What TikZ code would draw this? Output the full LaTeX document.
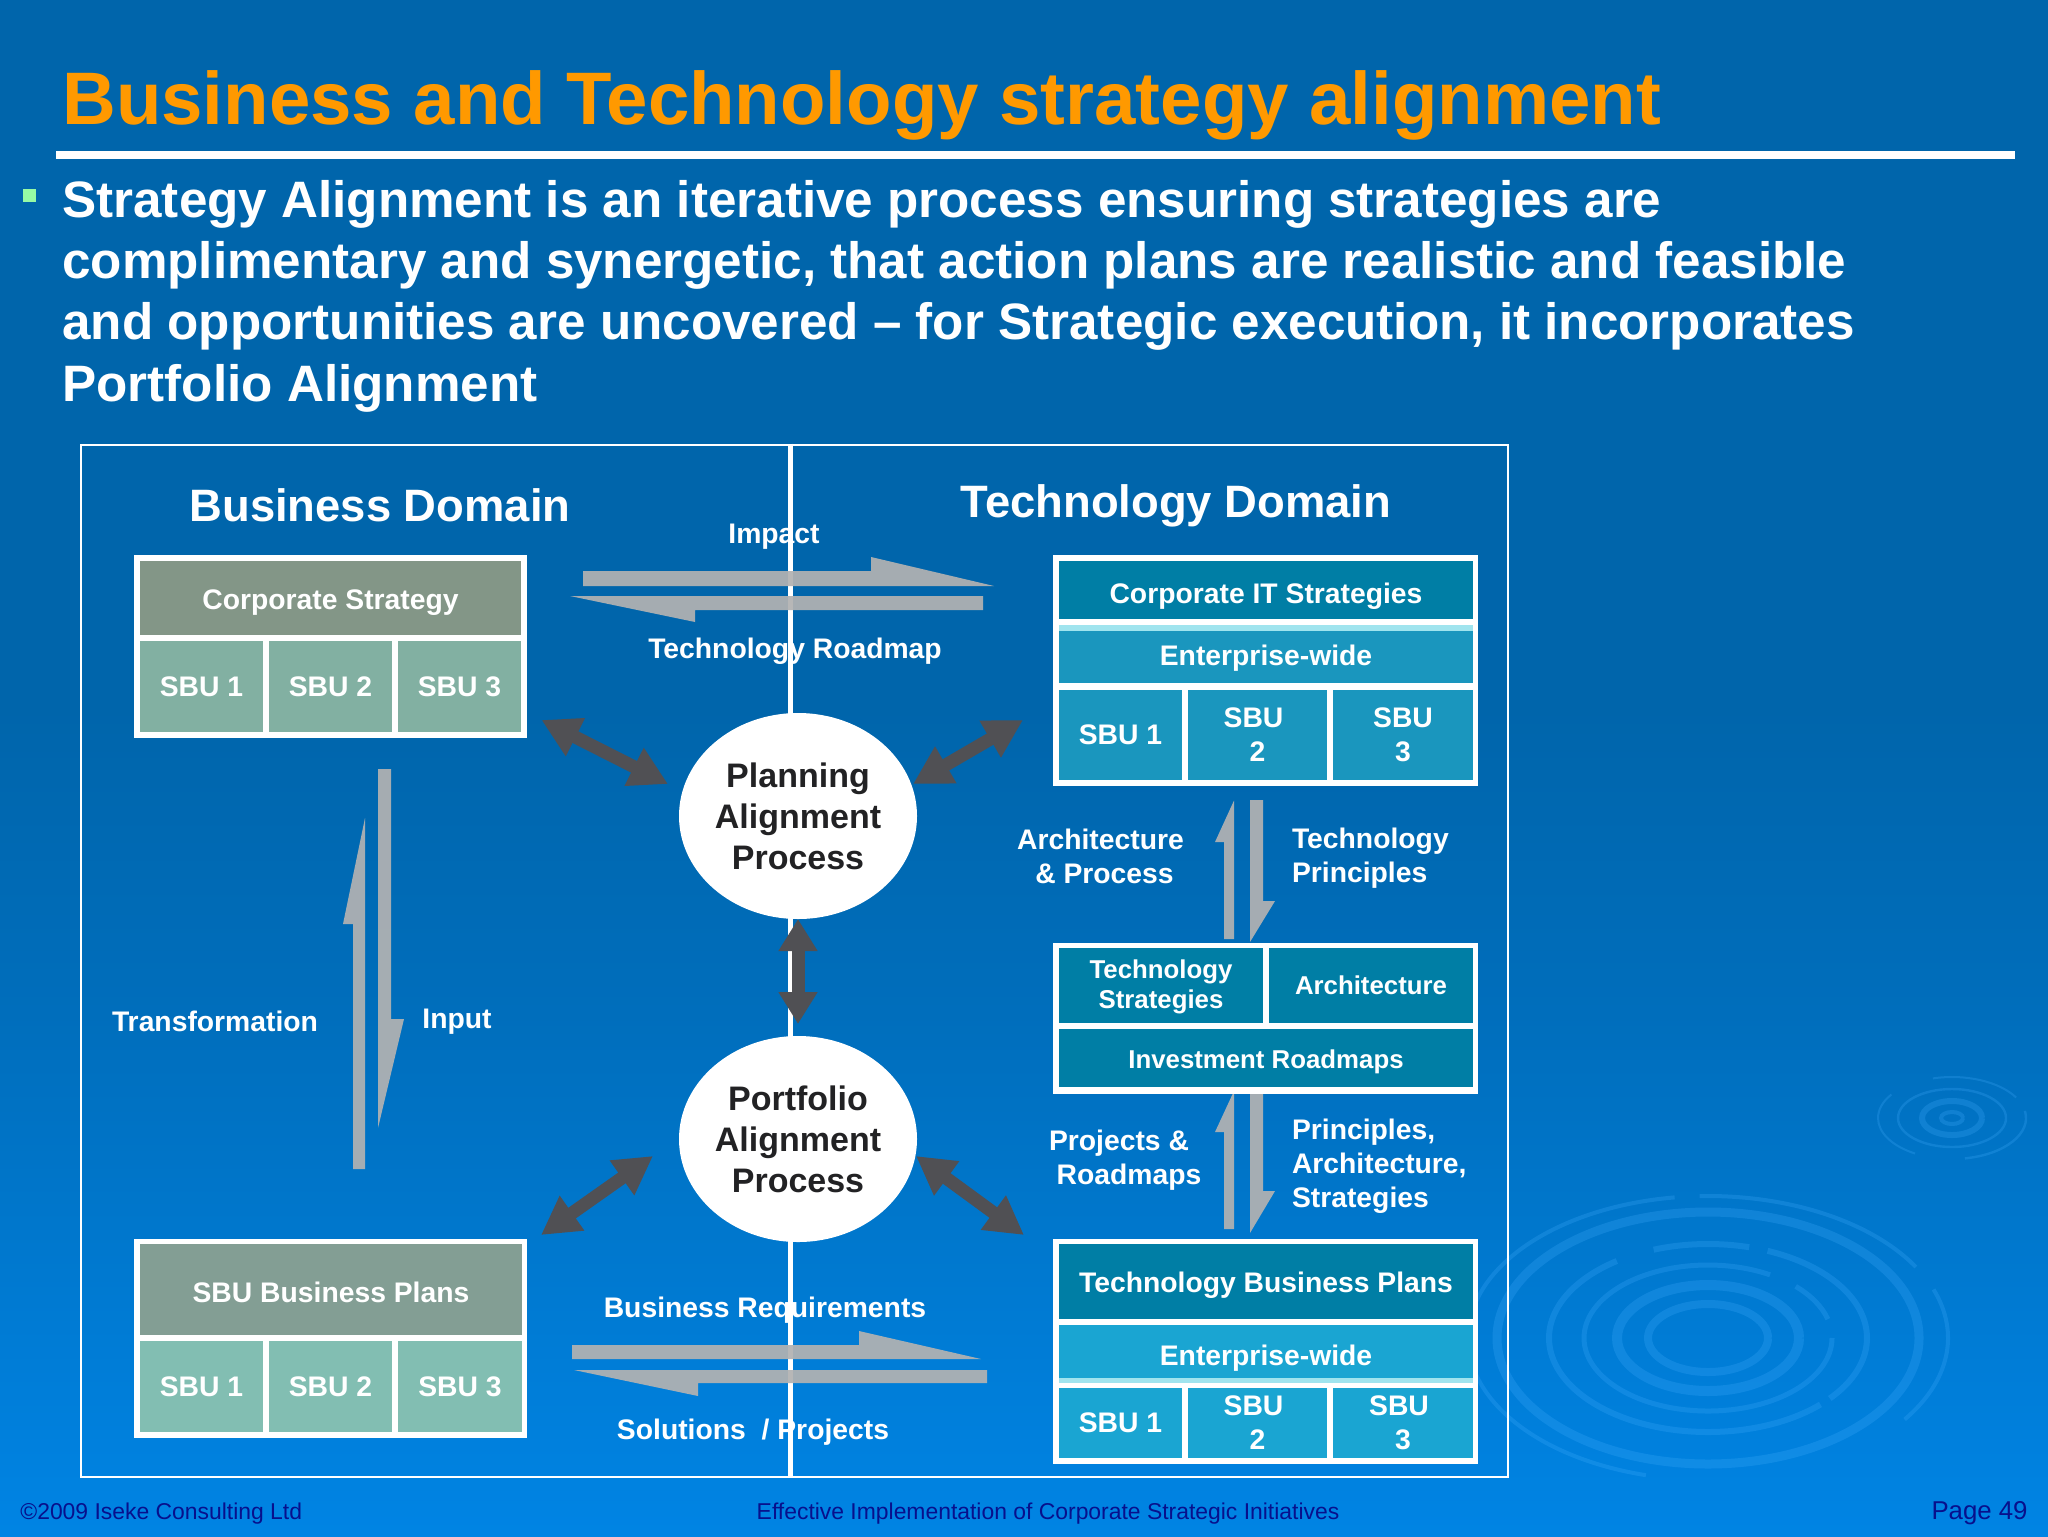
\documentclass[tikz,border=0pt]{standalone}
\usepackage{fontspec}
\setmainfont{Liberation Sans}
\usepackage{xcolor}
\definecolor{ColTitle}{RGB}{255,153,0}
\definecolor{ColBgA}{RGB}{0,101,171}
\definecolor{ColBgB}{RGB}{0,110,188}
\definecolor{ColBgC}{RGB}{0,132,228}
\definecolor{ColBullet}{RGB}{150,250,165}
\definecolor{ColRipple}{RGB}{70,175,255}
\definecolor{ColFoot}{RGB}{8,16,140}
\definecolor{ColGrayArrow}{RGB}{178,178,178}
\definecolor{ColDark}{RGB}{80,80,84}
\definecolor{ColInk}{RGB}{34,34,36}
\definecolor{ColCorpTop}{RGB}{131,150,135}
\definecolor{ColCorpSbu}{RGB}{130,176,162}
\definecolor{ColPlanTop}{RGB}{131,158,148}
\definecolor{ColPlanSbu}{RGB}{130,190,178}
\definecolor{ColTechTop}{RGB}{0,126,165}
\definecolor{ColTechEnt}{RGB}{26,150,190}
\definecolor{ColTechLow}{RGB}{26,165,210}
\definecolor{ColBand}{RGB}{160,228,238}
\usepackage{tikz}
\usetikzlibrary{shapes.geometric}
\usetikzlibrary{arrows.meta}
\pgfdeclareverticalshading{SlideBg}{100bp}{color(0bp)=(ColBgC); color(25bp)=(ColBgC);
    color(42bp)=(ColBgB); color(52bp)=(ColBgA); color(100bp)=(ColBgA)}
\newcommand{\DownBy}[2]{\raisebox{-#1}[\height][\depth]{#2}}
\tikzset{Size/.style 2 args={minimum width=#1*.5pt,minimum height=#2*.5pt}}
\tikzstyle{WhiteBox}=[rectangle,fill=white,inner sep=0pt,outer sep=0pt]
\tikzstyle{Cell}=[rectangle,inner sep=0pt,outer sep=0pt,align=center,text=white,
font=\fontsize{14.15}{17}\selectfont\bfseries]
\tikzstyle{SmallCell}=[Cell,font=\fontsize{12.9}{15}\selectfont\bfseries]
\tikzstyle{NodeLabel}=[inner sep=0pt,outer sep=0pt,text=white,
font=\fontsize{14.15}{17}\selectfont\bfseries]
\tikzstyle{Domain}=[inner sep=0pt,text=white,font=\fontsize{22.7}{27}\selectfont\bfseries]
\tikzstyle{Process}=[ellipse,fill=white,inner sep=0pt,outer sep=0pt,Size={238}{206},
align=center,text=ColInk,font=\fontsize{17}{20.5}\selectfont\bfseries]
\tikzstyle{FootText}=[inner sep=0pt,text=ColFoot,font=\fontsize{11.45}{14}\selectfont]
\tikzstyle{GrayArrow}=[fill=ColGrayArrow,fill opacity=.93]
\tikzstyle{DarkArrow}=[draw=ColDark,line width=6.5pt,
{Triangle[length=19pt,width=20pt]}-{Triangle[length=19pt,width=20pt]}]
\tikzstyle{Ripple}=[draw=ColRipple,opacity=.24]
\begin{document}
\begin{tikzpicture}[x=.5pt,y=-.5pt]
    \useasboundingbox(0,0)rectangle(2048,1536);
    \path[shading=SlideBg](0,0)rectangle(2048,1536);
    % ripples in the background
    \coordinate(bigdrop)at(1708,1338);
    \coordinate(smalldrop)at(1952,1118);
    \foreach \rx/\ry/\wd/\from/\upto in {240/142/2/268/330,240/142/2/340/395,240/142/2/105/262,
        211/126/4.5/0/360,159/94/3/250/285,159/94/3/292/400,159/94/3/45/235,
        124/73/2.5/0/300,124/73/2.5/315/345,91/53/5/0/360,60/34/4/0/360}
        \draw[Ripple,line width=\wd pt](bigdrop)++(\from:\rx*1 and \ry*1)
            arc[start angle=\from,end angle=\upto,x radius=\rx,y radius=\ry];
    \foreach \rx/\ry/\wd/\from/\upto in {74/41/1/255/330,74/41/1.2/350/440,74/41/1/120/215,
        54/29/1.2/0/360,30/17/3/0/360,11/6/2/0/360}
        \draw[Ripple,line width=\wd pt](smalldrop)++(\from:\rx*1 and \ry*1)
            arc[start angle=\from,end angle=\upto,x radius=\rx,y radius=\ry];
    % heading
    \node[anchor=base west,inner sep=0pt,text=ColTitle,font=\fontsize{37.2}{40}\selectfont\bfseries]
        (title)at(62,125){Business and Technology strategy alignment};
    \node[rectangle,fill=white,inner sep=0pt,Size={1959}{8}](rule)at(1035.5,155){};
    \node[rectangle,fill=ColBullet,inner sep=0pt,Size={13}{13}](bullet)at(29.5,195.5){};
    \node[anchor=north west,inner sep=0pt,align=left,text=white,
        font=\fontsize{25.6}{30.6}\selectfont\bfseries](intro)at(62,180){Strategy Alignment is an iterative process ensuring strategies are\\
        complimentary and synergetic, that action plans are realistic and feasible\\
        and opportunities are uncovered -- for Strategic execution, it incorporates\\
        Portfolio Alignment};
    % frame with the domain divider
    \node[rectangle,draw=white,line width=1.4pt,inner sep=0pt,Size={1427}{1032}](frame)at(794.5,961){};
    \draw[white,line width=2.3pt](frame.north-|790.5,0)--(frame.south-|790.5,0);
    % half arrows
    \coordinate(impact0)at(583,586);
    \coordinate(impact1)at(994,586);
    \coordinate(road0)at(983,596);
    \coordinate(road1)at(570,596);
    \coordinate(req0)at(572,1359);
    \coordinate(req1)at(981,1359);
    \coordinate(sol0)at(987,1370);
    \coordinate(sol1)at(574,1370);
    \coordinate(input0)at(378,769);
    \coordinate(input1)at(378,1128);
    \coordinate(trans0)at(365,1169);
    \coordinate(trans1)at(365,818);
    \coordinate(arch0)at(1234,939);
    \coordinate(arch1)at(1234,800.5);
    \coordinate(princ0)at(1250,800);
    \coordinate(princ1)at(1250,942);
    \coordinate(proj0)at(1234,1229);
    \coordinate(proj1)at(1234,1091);
    \coordinate(strat0)at(1250,1090);
    \coordinate(strat1)at(1250,1233);
    \fill[GrayArrow](impact0)--(impact1)--++(-123,-29)--++(0,14)--++(-288,0)--cycle;
    \fill[GrayArrow](road0)--(road1)--++(125,26)--++(0,-12)--++(288,0)--cycle;
    \fill[GrayArrow](req0)--(req1)--++(-122,-28)--++(0,14)--++(-287,0)--cycle;
    \fill[GrayArrow](sol0)--(sol1)--++(124,26)--++(0,-13)--++(289,0)--cycle;
    \fill[GrayArrow](input0)--(input1)--++(26,-109)--++(-13,0)--++(0,-250)--cycle;
    \fill[GrayArrow](trans0)--(trans1)--++(-22,106)--++(10,0)--++(0,245)--cycle;
    \fill[GrayArrow](arch0)--(arch1)--++(-19,41.5)--++(9,0)--++(0,97)--cycle;
    \fill[GrayArrow](princ0)--(princ1)--++(25,-41)--++(-12,0)--++(0,-101)--cycle;
    \fill[GrayArrow](proj0)--(proj1)--++(-19,41)--++(9,0)--++(0,97)--cycle;
    \fill[GrayArrow](strat0)--(strat1)--++(25,-42)--++(-12,0)--++(0,-101)--cycle;
    % business side
    \node[WhiteBox,Size={393}{183}](corpbox)at(330.5,646.5){};
    \node[Cell,fill=ColCorpTop,Size={381}{74}](corptop)at(330.5,598){\DownBy{2.5pt}{Corporate Strategy}};
    \node[Cell,fill=ColCorpSbu,Size={123}{91}](corpa)at(201.5,686.5){SBU 1};
    \node[Cell,fill=ColCorpSbu,Size={123}{91}](corpb)at(330.5,686.5){SBU 2};
    \node[Cell,fill=ColCorpSbu,Size={123}{91}](corpc)at(459.5,686.5){SBU 3};
    \node[WhiteBox,Size={393}{199}](planbox)at(330.5,1338.5){};
    \node[Cell,fill=ColPlanTop,Size={382}{91}](plantop)at(331,1289.5){\DownBy{1.3pt}{SBU Business Plans}};
    \node[Cell,fill=ColPlanSbu,Size={123}{91}](plana)at(201.5,1386.5){SBU 1};
    \node[Cell,fill=ColPlanSbu,Size={123}{91}](planb)at(330.5,1386.5){SBU 2};
    \node[Cell,fill=ColPlanSbu,Size={124}{91}](planc)at(460,1386.5){SBU 3};
    % technology side
    \node[WhiteBox,Size={425}{231}](itbox)at(1265.5,670.5){};
    \node[Cell,fill=ColTechTop,Size={414}{58}](ittop)at(1266,590){\DownBy{3.3pt}{Corporate IT Strategies}};
    \node[Cell,fill=ColBand,Size={414}{6}](itband)at(1266,628){};
    \node[Cell,fill=ColTechEnt,Size={414}{52}](itent)at(1266,657){\DownBy{.7pt}{Enterprise-wide}};
    \node[Cell,fill=ColTechEnt,Size={123}{90}](ita)at(1120.5,735){SBU 1};
    \node[Cell,fill=ColTechEnt,Size={139}{90}](itb)at(1257.5,735){SBU\hspace*{4pt}\\2};
    \node[Cell,fill=ColTechEnt,Size={140}{90}](itc)at(1403,735){SBU\\3};
    \node[WhiteBox,Size={425}{151}](techbox)at(1265.5,1018){};
    \node[SmallCell,fill=ColTechTop,Size={204}{75}](techa)at(1161,985.5){\DownBy{1pt}{\begin{tabular}{@{}c@{}}Technology\\Strategies\end{tabular}}};
    \node[SmallCell,fill=ColTechTop,Size={204}{75}](techb)at(1371,985.5){Architecture};
    \node[SmallCell,fill=ColTechTop,Size={414}{58}](techc)at(1266,1058){\DownBy{2pt}{Investment Roadmaps}};
    \node[WhiteBox,Size={425}{225}](busbox)at(1265.5,1351.5){};
    \node[Cell,fill=ColTechTop,Size={414}{75}](bustop)at(1266,1281.5){\DownBy{2pt}{Technology Business Plans}};
    \node[Cell,fill=ColTechLow,Size={414}{53}](busent)at(1266,1351.5){\DownBy{3.3pt}{Enterprise-wide}};
    \node[Cell,fill=ColBand,Size={414}{5}](busband)at(1266,1380.5){};
    \node[Cell,fill=ColTechLow,Size={123}{70}](busa)at(1120.5,1423){SBU 1};
    \node[Cell,fill=ColTechLow,Size={139}{70}](busb)at(1257.5,1423){SBU\hspace*{4pt}\\2};
    \node[Cell,fill=ColTechLow,Size={140}{70}](busc)at(1403,1423){SBU\hspace*{4pt}\\3};
    % alignment processes
    \node[Process](planning)at(798,816){Planning\\Alignment\hspace*{4pt}\\Process};
    \node[Process](portfolio)at(798,1139){Portfolio\\Alignment\hspace*{4pt}\\Process};
    \coordinate(plantl)at(541.5,720);
    \coordinate(plantla)at(668,784);
    \coordinate(plantr)at(1023,720);
    \coordinate(plantra)at(913,784);
    \coordinate(portbl)at(541,1235);
    \coordinate(portbla)at(653,1156);
    \coordinate(portbr)at(1024,1235);
    \coordinate(portbra)at(916,1156);
    \draw[DarkArrow](plantl)--(plantla);
    \draw[DarkArrow](plantr)--(plantra);
    \draw[DarkArrow](portbl)--(portbla);
    \draw[DarkArrow](portbr)--(portbra);
    \draw[DarkArrow,line width=6.5pt,{Triangle[length=16pt,width=18.5pt]}-{Triangle[length=16pt,width=18.5pt]}]
        (planning.south)--([yshift=6pt]portfolio.north);
    % labels
    \node[Domain](bdomain)at(380,505){Business Domain};
    \node[Domain](tdomain)at(1176,506){Technology Domain};
    \node[NodeLabel](limpact)at(774,537){Impact};
    \node[NodeLabel](lroad)at(795,651){Technology Roadmap};
    \node[NodeLabel](lreq)at(765,1310){Business Requirements};
    \node[NodeLabel](lsol)at(753,1432){Solutions~ / Projects};
    \node[NodeLabel](ltrans)at(215,1021){Transformation};
    \node[NodeLabel](linput)at(457,1022){Input};
    \node[NodeLabel,align=center](larch)at(1104.5,856){Architecture\hspace*{4pt}\\\& Process};
    \node[NodeLabel,align=left,anchor=west](lprinc)at(1292,858){Technology\\Principles};
    \node[NodeLabel,align=center](lproj)at(1129,1160){Projects \&\hspace*{10pt}\\Roadmaps};
    \node[NodeLabel,align=left,anchor=west](lstrat)at(1292,1166){Principles,\\Architecture,\\Strategies};
    % footer
    \node[FootText,anchor=west](fleft)at(20,1514){©2009 Iseke Consulting Ltd};
    \node[FootText](fmid)at(1048,1514){Effective Implementation of Corporate Strategic Initiatives};
    \node[FootText,anchor=east,font=\fontsize{12.9}{15}\selectfont](fpage)at(2028,1513){Page 49};
\end{tikzpicture}
\end{document}
